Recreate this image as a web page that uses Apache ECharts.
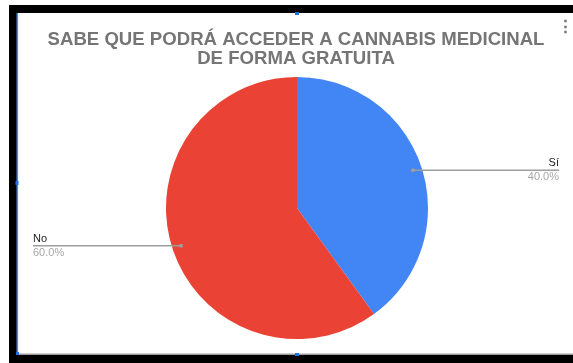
<!DOCTYPE html>
<html>
<head>
<meta charset="utf-8">
<script src="https://cdn.jsdelivr.net/npm/echarts@6/dist/echarts.min.js"></script>
<style>
  html, body { margin: 0; padding: 0; background: #fff; }
  #chart { width: 573px; height: 363px; }
</style>
</head>
<body>
<div id="chart"></div>
<script>
// Survey answers and their shares (%)
const categories = ['Sí', 'No'];
const shares = [40.0, 60.0];
const sliceColors = ['#4285f4', '#ea4335'];
const titleText = 'SABE QUE PODRÁ ACCEDER A CANNABIS MEDICINAL\nDE FORMA GRATUITA';

const pieData = categories.map((name, i) => ({ name, value: shares[i] }));

// Leader-line anchor dots: middle of each slice, slightly inside the rim
const PIE_R = 131, ANCHOR_R = 122;
const anchorDots = [];
shares.reduce((start, v) => { anchorDots.push([ANCHOR_R, start + v / 2]); return start + v; }, 0);

const chart = echarts.init(document.getElementById('chart'), null, { renderer: 'canvas' });

// Frame around the chart card
const frame = [
  { type: 'rect', shape: { x: 9, y: 5, width: 564, height: 8 }, style: { fill: '#000' } },
  { type: 'rect', shape: { x: 9, y: 5, width: 8, height: 358 }, style: { fill: '#000' } },
  { type: 'rect', shape: { x: 9, y: 355, width: 564, height: 8 }, style: { fill: '#000' } },
  { type: 'rect', shape: { x: 17, y: 353.5, width: 556, height: 1.5 }, style: { fill: '#9e9e9e' } },
  { type: 'rect', shape: { x: 16.5, y: 13, width: 1.6, height: 342 }, style: { fill: '#4a8af4' } },
  { type: 'rect', shape: { x: 295, y: 12, width: 4, height: 3 }, style: { fill: '#1a73e8' } },
  { type: 'rect', shape: { x: 295, y: 353, width: 4, height: 3 }, style: { fill: '#1a73e8' } },
  { type: 'rect', shape: { x: 15.5, y: 181, width: 3, height: 4 }, style: { fill: '#1a73e8' } },
  { type: 'rect', shape: { x: 16, y: 352, width: 3, height: 3 }, style: { fill: '#1a73e8' } },
  { type: 'text', left: 557, top: 19, style: { text: '⋮', fill: '#757575', font: 'bold 17px "Liberation Sans", Arial, sans-serif' } }
];

// Extend each leader line underneath its two-line label
function leaderUnderLabel(p) {
  const pts = p.labelLinePoints;
  if (!pts) return {};
  const onLeft = pts[pts.length - 1][0] < pts[0][0];
  pts[pts.length - 1][0] = onLeft ? p.labelRect.x : p.labelRect.x + p.labelRect.width;
  return { labelLinePoints: pts };
}

chart.setOption({
  backgroundColor: '#fff',
  animation: false,
  title: {
    text: titleText,
    left: 296,
    textAlign: 'center',
    top: 25,
    padding: [5, 0, 5, 0],
    textStyle: {
      fontFamily: '"Liberation Sans", Arial, sans-serif',
      fontSize: 18.6,
      fontWeight: 'bold',
      color: '#757575',
      lineHeight: 19.5
    }
  },
  graphic: frame,
  polar: { center: [297, 208], radius: PIE_R },
  angleAxis: { type: 'value', min: 0, max: 100, startAngle: 90, clockwise: true, show: false },
  radiusAxis: { type: 'value', min: 0, max: PIE_R, show: false },
  series: [
    {
      type: 'pie',
      z: 1,
      left: 33, right: 14, top: 0, bottom: 0,
      center: [264, 208],
      radius: PIE_R,
      startAngle: 90,
      clockwise: true,
      silent: true,
      label: { show: false },
      labelLine: { show: false },
      itemStyle: { borderWidth: 0 },
      color: sliceColors,
      data: pieData
    },
    {
      // transparent overlay carrying the labels, leader lines start inside the slices
      type: 'pie',
      z: 5,
      left: 33, right: 14, top: 0, bottom: 0,
      center: [264, 208],
      radius: ANCHOR_R,
      startAngle: 90,
      clockwise: true,
      silent: true,
      itemStyle: { color: 'rgba(0,0,0,0)' },
      label: {
        show: true,
        position: 'outside',
        alignTo: 'edge',
        edgeDistance: 0,
        distanceToLabelLine: 0,
        formatter: p => '{n|' + p.name + '}\n{v|' + p.value.toFixed(1) + '%}',
        rich: {
          n: { fontFamily: '"Liberation Sans", Arial, sans-serif', fontSize: 11, color: '#222', lineHeight: 14 },
          v: { fontFamily: '"Liberation Sans", Arial, sans-serif', fontSize: 11, color: '#a8a8a8', lineHeight: 14 }
        }
      },
      labelLine: {
        show: true,
        length: 0.1,
        length2: 10,
        smooth: false,
        lineStyle: { color: '#9e9e9e', width: 1.5 }
      },
      labelLayout: leaderUnderLabel,
      data: pieData
    },
    {
      type: 'scatter',
      coordinateSystem: 'polar',
      z: 6,
      silent: true,
      symbol: 'circle',
      symbolSize: 4,
      itemStyle: { color: '#9e9e9e', opacity: 1 },
      data: anchorDots
    }
  ]
});
</script>
</body>
</html>
